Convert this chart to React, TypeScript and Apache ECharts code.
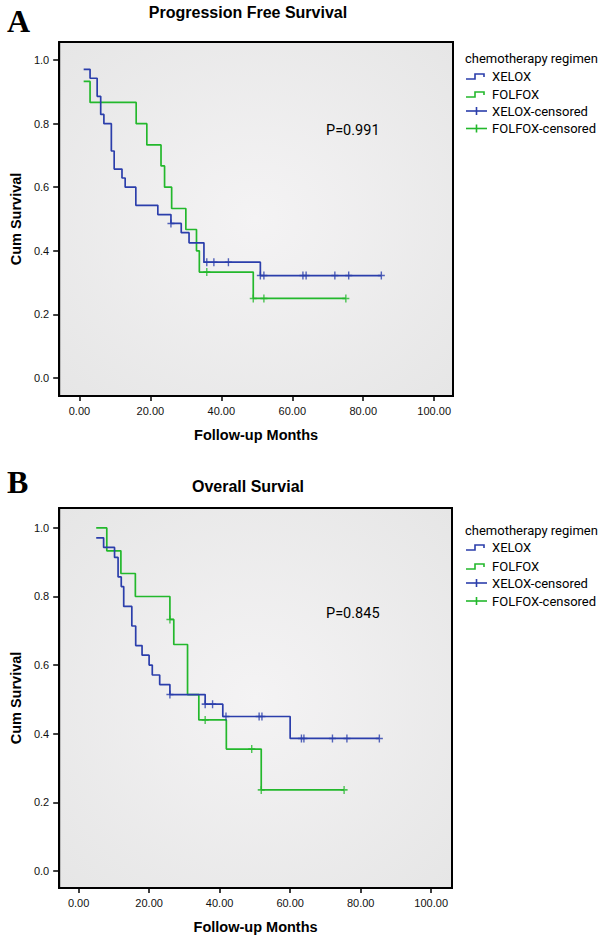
import React, { useEffect, useRef } from "react";
import * as echarts from "echarts";

// ---- axes ----
const xTicks = [0, 20, 40, 60, 80, 100];
const yTicks = [0, 0.2, 0.4, 0.6, 0.8, 1.0];

// ---- A: Progression Free Survival ----
const pfsXeloxTime = [1.2, 3.0, 5.0, 6.0, 6.9, 9.0, 9.8, 12.0, 12.9, 15.9, 22.1, 25.8, 28.7, 30.9, 35.1, 51.0, 85.1];
const pfsXeloxSurv = [0.971, 0.943, 0.886, 0.829, 0.8, 0.714, 0.657, 0.629, 0.6, 0.543, 0.514, 0.486, 0.457, 0.425, 0.364, 0.322, 0.322];
const pfsXeloxCensTime = [25.8, 35.9, 37.9, 42.0, 51.0, 52.0, 63.0, 63.9, 72.0, 75.9, 85.1];
const pfsXeloxCensSurv = [0.486, 0.364, 0.364, 0.364, 0.322, 0.322, 0.322, 0.322, 0.322, 0.322, 0.322];

const pfsFolfoxTime = [1.2, 3.0, 16.0, 19.0, 23.0, 24.0, 26.0, 30.0, 33.0, 33.8, 49.0, 75.1];
const pfsFolfoxSurv = [0.933, 0.867, 0.8, 0.733, 0.667, 0.6, 0.533, 0.467, 0.4, 0.333, 0.25, 0.25];
const pfsFolfoxCensTime = [35.9, 49.0, 52.0, 75.1];
const pfsFolfoxCensSurv = [0.333, 0.25, 0.25, 0.25];

// ---- B: Overall Survival ----
const osXeloxTime = [5.0, 7.1, 10.2, 11.2, 12.1, 12.8, 15.1, 16.2, 18.0, 20.0, 20.9, 23.0, 25.9, 35.9, 40.9, 60.0, 85.3];
const osXeloxSurv = [0.971, 0.943, 0.914, 0.857, 0.829, 0.771, 0.714, 0.657, 0.629, 0.6, 0.571, 0.543, 0.514, 0.486, 0.45, 0.386, 0.386];
const osXeloxCensTime = [25.9, 35.9, 38.0, 41.8, 51.2, 52.0, 63.2, 63.9, 72.0, 76.1, 85.3];
const osXeloxCensSurv = [0.514, 0.486, 0.486, 0.45, 0.45, 0.45, 0.386, 0.386, 0.386, 0.386, 0.386];

const osFolfoxTime = [5.0, 8.0, 12.0, 16.1, 25.9, 27.0, 30.9, 34.1, 41.9, 51.8, 75.3];
const osFolfoxSurv = [1.0, 0.933, 0.867, 0.8, 0.733, 0.66, 0.514, 0.44, 0.355, 0.236, 0.236];
const osFolfoxCensTime = [25.9, 35.9, 49.1, 51.8, 75.3];
const osFolfoxCensSurv = [0.733, 0.44, 0.355, 0.236, 0.236];

const legendTitle = "chemotherapy regimen";
const legendNames = ["XELOX", "FOLFOX", "XELOX-censored", "FOLFOX-censored"];
const panelTitles = ["Progression Free Survival", "Overall Survial"];
const panelLetters = ["A", "B"];
const pValues = ["P=0.991", "P=0.845"];

const BLUE = "#2b3eab";
const GREEN = "#23b82c";
const PLUS = "path://M4,0H6V4H10V6H6V10H4V6H0V4H4Z";
const SANS = '"Liberation Sans", Arial, sans-serif';
const UI = 'Roboto, "Noto Sans", sans-serif';

function pairs(t: number[], s: number[]) {
  return t.map((x, i) => [x, s[i]]);
}

export default function App() {
  const ref = useRef<HTMLDivElement>(null);
  useEffect(() => {
    const chart = echarts.init(ref.current!, null, { renderer: "svg" });
    const bg = () =>
      new echarts.graphic.RadialGradient(0.5, 0.5, 0.75, [
        { offset: 0, color: "#f4f3f4" },
        { offset: 1, color: "#e5e5e5" },
      ]);
    const grids = [
      { left: 43, top: 42, width: 410, height: 354, show: true, borderColor: "#000", borderWidth: 2, backgroundColor: bg() },
      { left: 43, top: 508, width: 409, height: 380, show: true, borderColor: "#000", borderWidth: 2, backgroundColor: bg() },
    ];
    const xRanges = [
      [-5.7, 105.3],
      [-5.5, 105.9],
    ];
    const yRanges = [
      [-0.057, 1.057],
      [-0.05, 1.058],
    ];
    const xAxes = [0, 1].map((i) => ({
      type: "value",
      gridIndex: i,
      min: xRanges[i][0],
      max: xRanges[i][1],
      axisLine: { show: true, onZero: false, lineStyle: { color: "#000", width: 2 } },
      axisTick: { show: true, customValues: xTicks, length: 5, lineStyle: { color: "#000", width: 1.5 } },
      axisLabel: {
        customValues: xTicks,
        formatter: (v: number) => v.toFixed(2),
        color: "#111",
        fontSize: 11,
        margin: 9,
        fontFamily: SANS,
      },
      splitLine: { show: false },
      name: "Follow-up Months",
      nameLocation: "middle",
      nameGap: 31,
      nameTextStyle: { fontWeight: "bold", fontSize: 14.5, color: "#000", fontFamily: SANS },
    }));
    const yAxes = [0, 1].map((i) => ({
      type: "value",
      gridIndex: i,
      min: yRanges[i][0],
      max: yRanges[i][1],
      axisLine: { show: true, onZero: false, lineStyle: { color: "#000", width: 2 } },
      axisTick: { show: true, customValues: yTicks, length: 6, lineStyle: { color: "#000", width: 1.5 } },
      axisLabel: {
        customValues: yTicks,
        formatter: (v: number) => v.toFixed(1),
        color: "#111",
        fontSize: 11,
        margin: 10,
        fontFamily: SANS,
      },
      splitLine: { show: false },
      name: "Cum Survival",
      nameLocation: "middle",
      nameGap: 26,
      nameTextStyle: { fontWeight: "bold", fontSize: 14.5, color: "#000", fontFamily: SANS },
    }));

    const curve = (name: string, i: number, t: number[], s: number[], color: string) => ({
      type: "line",
      name,
      xAxisIndex: i,
      yAxisIndex: i,
      step: "end",
      data: pairs(t, s),
      showSymbol: false,
      symbol: "none",
      lineStyle: { color, width: 1.7 },
      itemStyle: { color },
      z: 3,
    });
    const cens = (name: string, i: number, t: number[], s: number[], color: string) => ({
      type: "scatter",
      name,
      xAxisIndex: i,
      yAxisIndex: i,
      data: pairs(t, s),
      symbol: PLUS,
      symbolSize: [7, 8],
      itemStyle: { color },
      z: 4,
    });

    const series = [
      curve("FOLFOX", 0, pfsFolfoxTime, pfsFolfoxSurv, GREEN),
      curve("XELOX", 0, pfsXeloxTime, pfsXeloxSurv, BLUE),
      cens("FOLFOX-censored", 0, pfsFolfoxCensTime, pfsFolfoxCensSurv, GREEN),
      cens("XELOX-censored", 0, pfsXeloxCensTime, pfsXeloxCensSurv, BLUE),
      curve("FOLFOX", 1, osFolfoxTime, osFolfoxSurv, GREEN),
      curve("XELOX", 1, osXeloxTime, osXeloxSurv, BLUE),
      cens("FOLFOX-censored", 1, osFolfoxCensTime, osFolfoxCensSurv, GREEN),
      cens("XELOX-censored", 1, osXeloxCensTime, osXeloxCensSurv, BLUE),
    ];

    const legendBlock = (titleY: number, rows: number[]) => {
      const els: any[] = [
        {
          type: "text",
          x: 465,
          y: titleY,
          style: { text: legendTitle, fill: "#000", font: `13px ${UI}`, textAlign: "left", textVerticalAlign: "middle" },
        },
      ];
      legendNames.forEach((n, k) => {
        const yc = rows[k];
        const color = k % 2 === 0 ? BLUE : GREEN;
        if (k < 2) {
          els.push({
            type: "polyline",
            shape: { points: [[466, yc + 3], [475, yc + 3], [475, yc - 2], [484, yc - 2], [484, yc + 1]] },
            style: { stroke: color, lineWidth: 1.6, fill: null },
          });
        } else {
          els.push({ type: "line", shape: { x1: 466, y1: yc, x2: 487, y2: yc }, style: { stroke: color, lineWidth: 1.6 } });
          els.push({ type: "line", shape: { x1: 476.5, y1: yc - 4, x2: 476.5, y2: yc + 4 }, style: { stroke: color, lineWidth: 1.6 } });
        }
        els.push({
          type: "text",
          x: 492,
          y: yc,
          style: { text: n, fill: "#000", font: `13px ${UI}`, textAlign: "left", textVerticalAlign: "middle" },
        });
      });
      return els;
    };

    const graphic: any[] = [
      { type: "text", x: 7, y: 21, style: { text: panelLetters[0], fill: "#000", font: 'bold 32px "Liberation Serif", "Times New Roman", serif', textAlign: "left", textVerticalAlign: "middle" } },
      { type: "text", x: 7, y: 482, style: { text: panelLetters[1], fill: "#000", font: 'bold 32px "Liberation Serif", "Times New Roman", serif', textAlign: "left", textVerticalAlign: "middle" } },
      { type: "text", x: 248, y: 12, style: { text: panelTitles[0], fill: "#000", font: `bold 16px ${SANS}`, textAlign: "center", textVerticalAlign: "middle" } },
      { type: "text", x: 248, y: 486, style: { text: panelTitles[1], fill: "#000", font: `bold 16px ${SANS}`, textAlign: "center", textVerticalAlign: "middle" } },
      { type: "text", x: 326, y: 130, style: { text: pValues[0], fill: "#000", font: `14.5px ${UI}`, textAlign: "left", textVerticalAlign: "middle" } },
      { type: "text", x: 326, y: 613, style: { text: pValues[1], fill: "#000", font: `14.5px ${UI}`, textAlign: "left", textVerticalAlign: "middle" } },
      ...legendBlock(58, [76, 94, 111, 128.5]),
      ...legendBlock(530, [547, 566, 583, 601]),
    ];

    chart.setOption({
      animation: false,
      backgroundColor: "#fff",
      grid: grids,
      xAxis: xAxes,
      yAxis: yAxes,
      series,
      graphic,
    });
    return () => chart.dispose();
  }, []);
  return <div ref={ref} style={{ position: "absolute", left: 0, top: 0, width: 600, height: 937 }} />;
}
